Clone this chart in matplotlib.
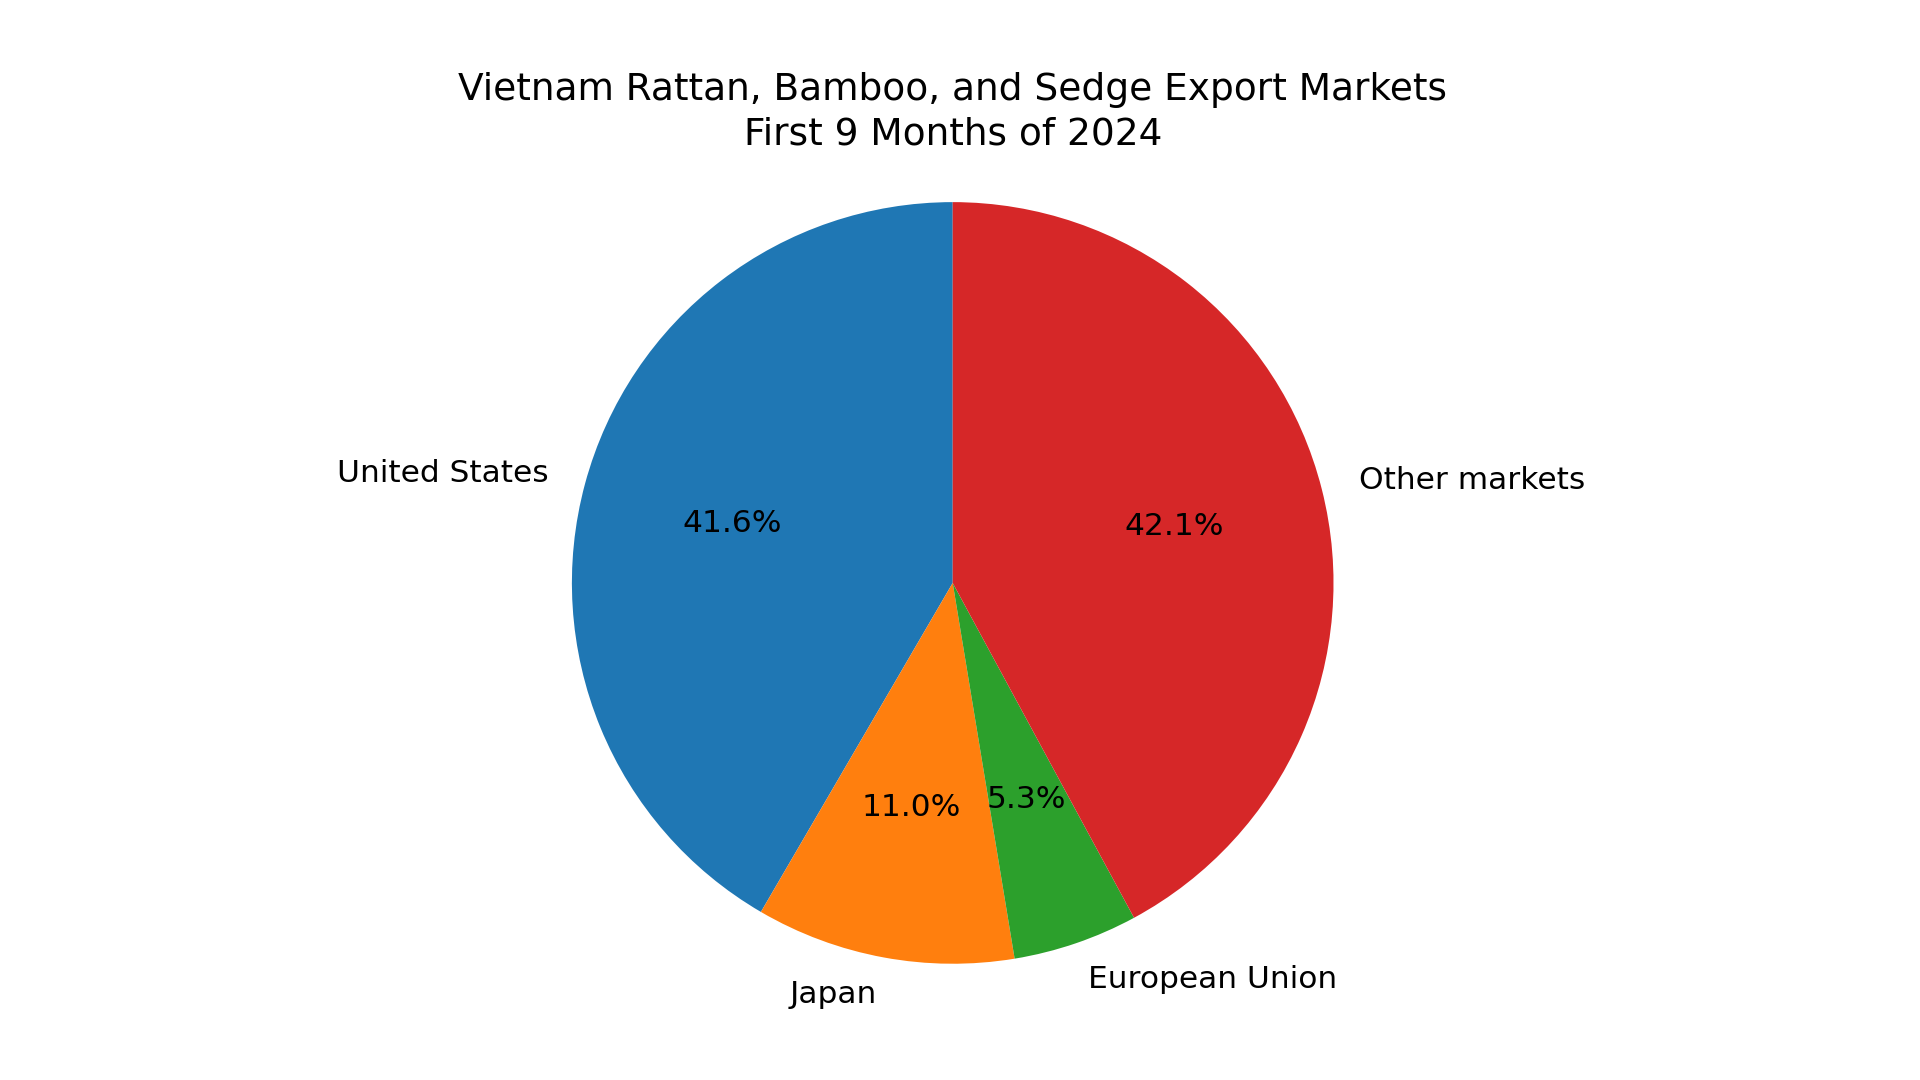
import matplotlib
matplotlib.use("Agg")
import matplotlib.pyplot as plt

labels = ["United States", "Japan", "European Union", "Other markets"]
shares = [41.6, 11.0, 5.3, 42.1]
colors = ["#1f77b4", "#ff7f0e", "#2ca02c", "#d62728"]

dpi = 225
fig = plt.figure(figsize=(1920 / dpi, 1080 / dpi), dpi=dpi)
ax = fig.add_axes([0.4962 - 0.4, 0.0195, 0.8, 0.8815])
ax.pie(shares, labels=labels, colors=colors, autopct="%1.1f%%", startangle=90)
ax.set_xlim(-1.25, 1.25)
ax.set_ylim(-1.25, 1.25)
ax.set_aspect("equal", adjustable="box")
ax.set_title("Vietnam Rattan, Bamboo, and Sedge Export Markets\nFirst 9 Months of 2024",
             y=0.941, pad=6, linespacing=1.3)
fig.savefig("out.png", dpi=dpi)
